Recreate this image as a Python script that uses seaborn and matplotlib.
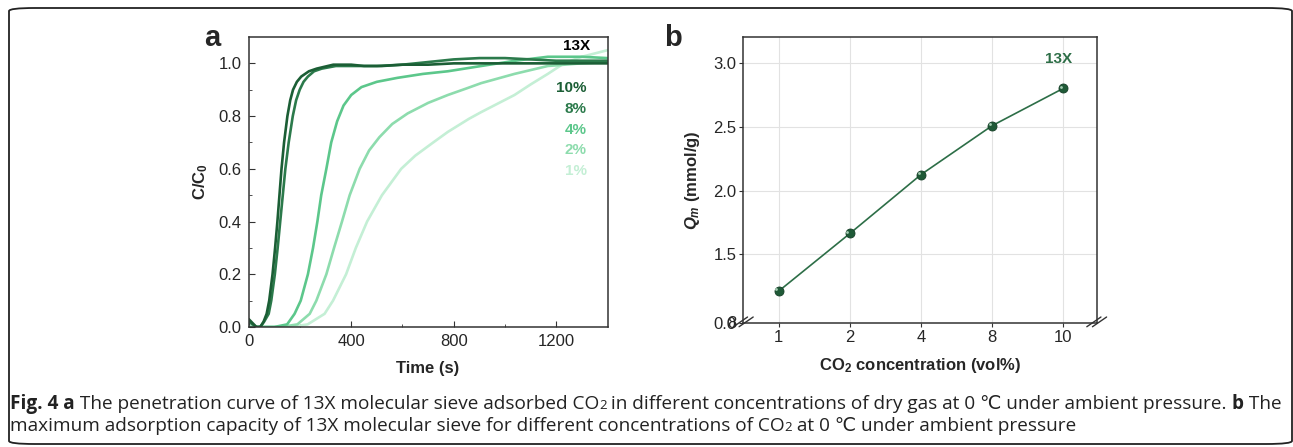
import numpy as np
import pandas as pd
import matplotlib
matplotlib.use("Agg")
import matplotlib.pyplot as plt
import seaborn as sns
from matplotlib import font_manager
from matplotlib.patches import FancyBboxPatch

# --- data ---
# panel a: breakthrough curves (time in s, C/C0)
t_10 = [0, 15, 30, 45, 58, 70, 80, 93, 103, 112, 120, 128, 138, 151, 162, 173, 188, 205, 235, 265,
        330, 400, 450, 520, 600, 700, 800, 900, 1000, 1100, 1200, 1300, 1400]
c_10 = [0.03, 0.015, 0.0, 0.0, 0.02, 0.05, 0.1, 0.2, 0.3, 0.4, 0.5, 0.6, 0.7, 0.8, 0.86, 0.9, 0.93, 0.95,
        0.97, 0.98, 0.995, 0.995, 0.99, 0.99, 0.995, 0.995, 1.0, 1.0, 1.0, 1.0, 1.0, 1.0, 1.0]
t_8 = [0, 15, 30, 45, 60, 78, 88, 102, 113, 123, 133, 143, 156, 172, 185, 199, 214, 231, 255, 285,
       340, 420, 500, 600, 700, 800, 900, 1000, 1100, 1200, 1300, 1400]
c_8 = [0.02, 0.01, 0.0, 0.0, 0.02, 0.05, 0.1, 0.2, 0.3, 0.4, 0.5, 0.6, 0.7, 0.8, 0.86, 0.9, 0.93, 0.95,
       0.97, 0.98, 0.99, 0.99, 0.99, 0.995, 1.005, 1.015, 1.02, 1.02, 1.015, 1.01, 1.01, 1.01]
t_4 = [0, 100, 150, 179, 203, 231, 251, 268, 283, 303, 322, 345, 370, 400, 440, 500, 580, 680, 777, 907,
       1040, 1167, 1300, 1400]
c_4 = [0, 0, 0.01, 0.05, 0.1, 0.2, 0.3, 0.4, 0.5, 0.6, 0.7, 0.78, 0.84, 0.88, 0.91, 0.93, 0.945, 0.96,
       0.97, 0.99, 1.01, 1.025, 1.025, 1.02]
t_2 = [0, 127, 190, 238, 264, 303, 333, 364, 394, 433, 470, 510, 560, 620, 700, 777, 850, 907, 1037,
       1167, 1297, 1400]
c_2 = [0, 0, 0.01, 0.05, 0.1, 0.2, 0.3, 0.4, 0.5, 0.6, 0.67, 0.72, 0.77, 0.81, 0.85, 0.88, 0.905, 0.925,
       0.96, 0.99, 1.0, 1.005]
t_1 = [0, 166, 230, 296, 329, 380, 418, 462, 520, 595, 650, 720, 777, 860, 907, 1037, 1100, 1167, 1230,
       1300, 1400]
c_1 = [0, 0, 0.01, 0.05, 0.1, 0.2, 0.3, 0.4, 0.5, 0.6, 0.65, 0.7, 0.74, 0.79, 0.815, 0.88, 0.92, 0.96,
       1.0, 1.025, 1.05]

series_names = ["10%", "8%", "4%", "2%", "1%"]
series_colors = ["#1b5e35", "#2b7a4b", "#5cc78b", "#8ddcad", "#c4efd5"]

# panel b: maximum adsorption capacity
co2_conc = ["1", "2", "4", "8", "10"]
q_m = [1.213, 1.664, 2.125, 2.508, 2.80]

# --- fonts ---
sns.set_style("ticks")
plt.rcParams["font.family"] = ["Liberation Sans", "DejaVu Sans"]
plt.rcParams["mathtext.fontset"] = "custom"
plt.rcParams["mathtext.rm"] = "Liberation Sans"
plt.rcParams["mathtext.it"] = "Liberation Sans:italic:bold"
plt.rcParams["mathtext.bf"] = "Liberation Sans:bold"

names = {f.name for f in font_manager.fontManager.ttflist}
cap_font = "Liberation Sans Narrow" if "Liberation Sans Narrow" in names else "Open Sans"

W, H = 1293, 447
fig = plt.figure(figsize=(W / 100, H / 100), dpi=100)

spine_c = "#333333"

# --- panel a ---
ax1 = fig.add_axes([248.7 / W, 1 - 327 / H, (607.5 - 248.7) / W, (327 - 37) / H])
curves = [(t_10, c_10), (t_8, c_8), (t_4, c_4), (t_2, c_2), (t_1, c_1)]
# lightest first so the dark curves sit on top
for i in reversed(range(len(curves))):
    t, c = curves[i]
    df = pd.DataFrame({"t": t, "c": c})
    sns.lineplot(data=df, x="t", y="c", ax=ax1, color=series_colors[i], linewidth=1.9)
ax1.set_xlim(0, 1400)
ax1.set_ylim(0, 1.1)
ax1.set_xticks([0, 400, 800, 1200])
ax1.set_xticks([200, 600, 1000], minor=True)
ax1.set_yticks([0.0, 0.2, 0.4, 0.6, 0.8, 1.0])
ax1.set_yticks([0.1, 0.3, 0.5, 0.7, 0.9], minor=True)
ax1.set_yticklabels(["0.0", "0.2", "0.4", "0.6", "0.8", "1.0"])
ax1.tick_params(which="both", direction="in", labelsize=12, color=spine_c, pad=5)
ax1.tick_params(which="major", length=4)
ax1.tick_params(which="minor", length=2.5)
ax1.set_xlabel("Time (s)", fontsize=12, fontweight="bold", labelpad=9)
ax1.set_ylabel("C/C$_\\mathbf{0}$", fontsize=12, fontweight="bold", labelpad=6)
ax1.text(1331, 1.066, "13X", fontsize=11, fontweight="bold", ha="right", va="center", color="black")
label_y = [0.906, 0.827, 0.747, 0.671, 0.592]
for name, col, yy in zip(series_names, series_colors, label_y):
    ax1.text(1319, yy, name, fontsize=11, fontweight="bold", ha="right", va="center", color=col)

# --- panel b ---
ax2 = fig.add_axes([743.3 / W, 1 - 323.3 / H, (1096.7 - 743.3) / W, (323.3 - 37.3) / H])
pos = list(range(len(co2_conc)))
dfb = pd.DataFrame({"pos": pos, "q": q_m})
sns.lineplot(data=dfb, x="pos", y="q", ax=ax2, color="#2d6e47", linewidth=1.2,
             marker="o", markersize=6.5, markerfacecolor="#1f5a37", markeredgecolor="#163f27",
             markeredgewidth=0.6)
# small highlight on the spheres
ax2.scatter(np.array(pos) - 0.035, np.array(q_m) + 0.012, s=4, color="#a6cdb4", zorder=5, linewidths=0)
ax2.set_xlim(-0.5, 4.47)
ax2.set_ylim(0.96, 3.2)
ax2.set_xticks(pos)
ax2.set_xticklabels(co2_conc)
ax2.set_yticks([0.96, 1.5, 2.0, 2.5, 3.0])
ax2.set_yticklabels(["0.0", "1.5", "2.0", "2.5", "3.0"])
ax2.grid(True, color="#e2e2e2", linewidth=0.8)
ax2.tick_params(direction="out", length=3, labelsize=12, color=spine_c, pad=2)
ax2.set_xlabel("CO$_\\mathbf{2}$ concentration (vol%)", fontsize=12, fontweight="bold", labelpad=8)
ax2.set_ylabel("$Q_m$ (mmol/g)", fontsize=12, fontweight="bold", labelpad=8)
ax2.text(3.93, 3.03, "13X", fontsize=11, fontweight="bold", ha="center", va="center", color="#2d6e47")
# overlapping glyph on the bottom label (as in the original)
ax2.annotate("8", xy=(0, 0.96), xycoords=ax2.get_yaxis_transform(), xytext=(-5, 0),
             textcoords="offset points", ha="right", va="center", fontsize=12, annotation_clip=False)
# axis break marks
for xa in (0.0, 1.0):
    for dx in (-0.008, 0.008):
        ax2.plot([xa + dx - 0.02, xa + dx + 0.02], [-0.012, 0.022], transform=ax2.transAxes,
                 color=spine_c, linewidth=1.0, clip_on=False)

for ax in (ax1, ax2):
    for s in ax.spines.values():
        s.set_visible(True)
        s.set_color(spine_c)
        s.set_linewidth(1.1)

# panel letters
fig.text(212 / W, 1 - 38 / H, "a", fontsize=21, fontweight="bold", ha="center", va="center")
fig.text(673 / W, 1 - 38 / H, "b", fontsize=21, fontweight="bold", ha="center", va="center")

# frame
frame = FancyBboxPatch((9 / W, 3 / H), (1292 - 9) / W, (439 - 3) / H,
                       boxstyle="round,pad=0,rounding_size=0.02", transform=fig.transFigure,
                       fill=False, edgecolor="#222222", linewidth=1.3, mutation_aspect=H / W)
fig.patches.append(frame)

# caption with mixed bold / subscript runs
line1 = [("Fig. 4 a", "bold", False), (" The penetration curve of 13X molecular sieve adsorbed CO", "normal", False),
         ("2", "normal", True), (" in different concentrations of dry gas at 0 \u2103 under ambient pressure. ", "normal", False),
         ("b", "bold", False), (" The", "normal", False)]
line2 = [("maximum adsorption capacity of 13X molecular sieve for different concentrations of CO", "normal", False),
         ("2", "normal", True), (" at 0 \u2103 under ambient pressure", "normal", False)]

renderer = fig.canvas.get_renderer()


def draw_line(runs, x0, y0, size, draw=True):
    x = x0
    arts = []
    for txt, wt, sub in runs:
        fs = size * 0.7 if sub else size
        yy = y0 + (4 / H if sub else 0)
        t = fig.text(x / W, 1 - yy / H, txt, fontsize=fs, fontweight=wt, family=[cap_font, "DejaVu Sans"],
                     ha="left", va="baseline", color="#222222")
        bb = t.get_window_extent(renderer)
        x += bb.width
        arts.append(t)
    if not draw:
        for a in arts:
            a.remove()
    return x - x0


w = draw_line(line1, 10, 409, 10, draw=False)
cap_size = 10 * (1285 - 10) / w
draw_line(line1, 10, 409, cap_size)
draw_line(line2, 10, 431, cap_size)

fig.savefig("out.png", dpi=100)
